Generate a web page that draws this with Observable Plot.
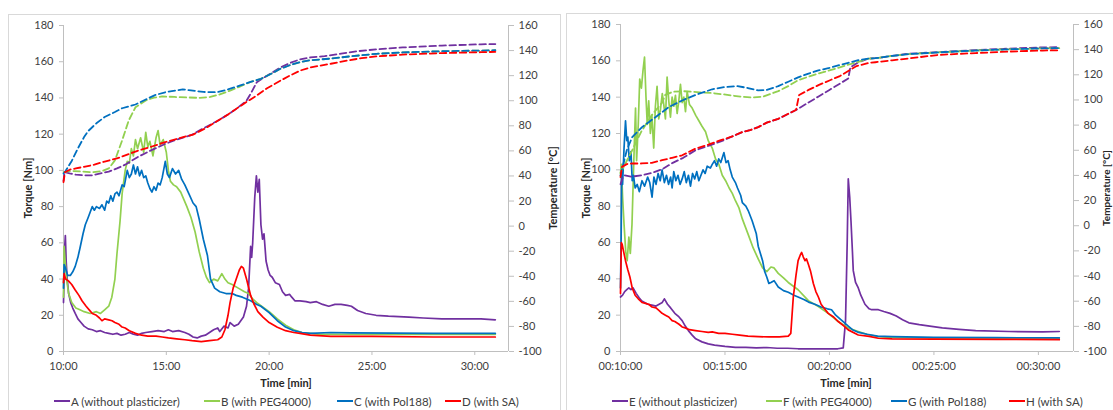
<!DOCTYPE html>
<html><head><meta charset="utf-8">
<script src="https://cdn.jsdelivr.net/npm/d3@7"></script>
<script src="https://cdn.jsdelivr.net/npm/@observablehq/plot@0.6"></script>
<style>
html,body{margin:0;padding:0;background:#fff;width:1113px;height:410px;overflow:hidden;position:relative;font-family:Lato,"Liberation Sans",sans-serif;}
.box{position:absolute;border:1px solid #d9d9d9;border-bottom:none;box-sizing:border-box;z-index:3;pointer-events:none;}
.plot{position:absolute;top:0;z-index:1;}
.title{position:absolute;font-weight:bold;font-size:11px;color:#262626;white-space:nowrap;transform:translate(-50%,-50%);z-index:2;}
.title.v{transform:translate(-50%,-50%) rotate(-90deg);}
.leg{position:absolute;top:394px;font-size:11.5px;color:#404040;white-space:nowrap;display:flex;align-items:center;height:14px;z-index:2;}
.leg i{display:inline-block;width:16px;height:2px;margin-right:1px;}
</style></head><body>
<div class="box" style="left:8px;top:14px;width:553px;height:400px;"></div>
<div class="box" style="left:566px;top:13px;width:560px;height:400px;border-right:none;"></div>
<div id="left" class="plot" style="left:0px;"></div>
<div id="right" class="plot" style="left:560px;"></div>
<div class="title v" style="left:27px;top:188px;">Torque [Nm]</div>
<div class="title v" style="left:552px;top:188px;">Temperature [°C]</div>
<div class="title" style="left:286px;top:382px;">Time [min]</div>
<div class="title v" style="left:585px;top:188px;">Torque [Nm]</div>
<div class="title v" style="left:1106px;top:188px;font-size:10px;">Temperature [°C]</div>
<div class="title" style="left:846px;top:382px;">Time [min]</div>
<div id="legends"></div>
<script>
// ---------- axis ticks ----------
const xTicks = [10, 15, 20, 25, 30];
const torqueTicks = [0, 20, 40, 60, 80, 100, 120, 140, 160, 180];
const tempTicks = [-100, -80, -60, -40, -20, 0, 20, 40, 60, 80, 100, 120, 140, 160];
const TORQUE_MAX = 180, TEMP_MIN = -100, TEMP_MAX = 160;

// ---------- series names & colours ----------
const leftNames = ["A (without plasticizer)", "B (with PEG4000)", "C (with Pol188)", "D (with SA)"];
const rightNames = ["E (without plasticizer)", "F (with PEG4000)", "G (with Pol188)", "H (with SA)"];
const COLORS = ["#7030A0", "#92D050", "#0070C0", "#FF0000"];

// ---------- LEFT panel: torque [Nm] vs time [min] ----------
const A_torque = [[10.0,27],[10.03,40],[10.06,58],[10.09,64],[10.13,50],[10.18,40],[10.25,32],[10.35,27],[10.45,24],[10.57,21],[10.7,18],[10.85,16],[11.0,14],[11.2,12.5],[11.4,12],[11.6,11],[11.8,11.5],[12.0,10.5],[12.2,10],[12.4,9.5],[12.6,10],[12.8,9],[13.0,9.5],[13.2,10.5],[13.4,9.5],[13.6,9],[13.8,10],[14.0,10.5],[14.3,11],[14.6,11.5],[14.9,11],[15.1,12],[15.3,11],[15.6,11.5],[15.9,10.5],[16.1,9.5],[16.3,8],[16.5,7.5],[16.7,8.5],[16.9,9],[17.1,10.5],[17.3,12],[17.5,13],[17.6,11],[17.8,14],[18.0,13],[18.1,16],[18.3,14],[18.5,15],[18.75,19],[18.9,25],[19.0,35],[19.1,58],[19.15,52],[19.2,60],[19.3,85],[19.38,97],[19.45,88],[19.52,95],[19.6,70],[19.68,62],[19.75,65],[19.85,50],[19.95,45],[20.05,42],[20.15,41],[20.3,38],[20.5,37],[20.65,33],[20.8,31],[21.0,31.5],[21.1,30],[21.25,28],[21.5,28],[21.8,27.5],[22.0,27],[22.3,27.5],[22.6,26],[22.9,25],[23.2,26],[23.5,26],[23.8,25.5],[24.0,25],[24.3,22.6],[24.7,21],[25.2,20],[25.8,19.5],[26.8,19],[27.5,18.5],[28.4,18],[29.5,18],[30.3,18],[31.0,17.5]];
const B_torque = [[10.0,30],[10.03,58],[10.08,50],[10.15,40],[10.25,32],[10.4,27],[10.6,24],[10.8,23],[11.0,22],[11.3,21],[11.6,22],[11.8,21],[12.0,23],[12.2,25],[12.35,30],[12.5,40],[12.6,54],[12.75,72],[12.85,87],[13.0,100],[13.1,105],[13.2,104],[13.3,112],[13.4,108],[13.5,117],[13.6,112],[13.75,118],[13.9,110],[14.0,121],[14.1,113],[14.2,116],[14.35,108],[14.5,118],[14.6,122],[14.7,114],[14.85,117],[15.0,110],[15.1,100],[15.2,94],[15.35,92],[15.5,91],[15.7,88],[15.85,84],[16.0,80],[16.2,74],[16.4,66],[16.6,55],[16.8,46],[16.95,41],[17.1,38],[17.3,40],[17.5,39],[17.7,43],[17.85,40],[18.0,38],[18.2,37],[18.5,35],[18.8,33],[19.0,32],[19.2,29],[19.4,27],[19.7,24.5],[20.0,22],[20.4,18],[20.8,14.5],[21.2,12],[21.6,10.5],[22.0,10],[22.5,9.5],[23.5,9.5],[25.0,9.5],[28.0,9.5],[31.0,9.5]];
const C_torque = [[10.0,35],[10.03,48],[10.1,46],[10.2,42],[10.33,42],[10.45,44],[10.57,47],[10.7,52],[10.8,57],[10.95,65],[11.06,70],[11.2,74],[11.3,77],[11.4,80],[11.5,78],[11.6,80],[11.75,79],[11.87,81],[12.0,78],[12.1,83],[12.2,82],[12.3,86],[12.4,83],[12.5,87],[12.6,88],[12.7,86],[12.85,92],[12.95,91],[13.1,100],[13.2,96],[13.3,98],[13.4,103],[13.5,98],[13.6,102],[13.7,97],[13.8,100],[13.9,96],[14.0,97],[14.1,93],[14.2,90],[14.3,88],[14.4,91],[14.5,89],[14.6,93],[14.7,92],[14.8,96],[14.95,105],[15.05,98],[15.15,96],[15.3,101],[15.45,98],[15.6,100],[15.75,95],[15.9,92],[16.1,87],[16.3,82],[16.45,80],[16.6,73],[16.8,62],[17.0,53],[17.15,40],[17.35,35],[17.6,33],[17.9,32],[18.2,32],[18.4,31],[18.7,30],[19.1,28],[19.4,26],[19.6,25],[20.0,21.5],[20.4,17],[20.8,13.5],[21.2,11.5],[21.6,10.5],[22.0,10],[23.0,10.5],[24.0,10.3],[26.0,10.2],[28.0,10],[31.0,10]];
const D_torque = [[10.0,38],[10.03,43],[10.1,40],[10.24,39],[10.4,37],[10.57,34],[10.75,31],[10.9,28],[11.1,25],[11.25,23],[11.4,21],[11.6,20],[11.75,18.5],[11.87,17],[12.0,18],[12.2,17.5],[12.36,17],[12.5,16],[12.7,15],[12.85,13.5],[13.0,13],[13.2,11.5],[13.5,10],[13.8,9],[14.1,8.5],[14.5,8.5],[14.8,8],[15.1,7.5],[15.5,7],[15.9,6.5],[16.25,6],[16.7,5.5],[17.1,6],[17.5,6.5],[17.7,8],[17.85,12],[18.0,20],[18.1,27],[18.25,35],[18.4,40],[18.55,45],[18.65,47],[18.75,46],[18.9,40],[19.0,35.5],[19.1,31],[19.25,26.5],[19.45,22],[19.7,19],[20.0,16],[20.4,13.4],[20.8,11.5],[21.2,10.5],[21.5,10],[22.0,9],[23.0,8.3],[25.0,8.3],[28.0,8],[31.0,8]];

// ---------- LEFT panel: temperature [°C] vs time [min] ----------
const A_temp = [[10.0,36],[10.05,43],[10.3,42],[10.6,41],[11.0,40.5],[11.4,40.5],[11.8,42],[12.2,43.5],[12.6,46],[13.0,49],[13.6,55],[14.2,60],[14.95,65.6],[15.5,69],[16.2,72.5],[16.8,78],[17.5,84],[18.0,89],[18.4,93.5],[18.9,100],[19.15,107],[19.4,114.8],[19.7,118],[20.1,122],[20.55,126.5],[21.0,130],[21.5,133],[22.0,134.5],[22.7,135.5],[23.5,137.5],[24.3,139.5],[25.2,141],[26.5,142.5],[28.4,144],[30.3,145],[31.0,145.2]];
const B_temp = [[10.0,43],[10.4,44],[10.9,43.5],[11.4,43],[11.9,44],[12.2,46],[12.5,52.4],[12.85,68.3],[13.17,84.2],[13.5,94.8],[14.0,100.2],[14.4,102.5],[14.8,103.4],[15.4,103],[16.1,102.6],[16.6,102.3],[17.14,103],[17.6,105],[18.1,108],[18.6,111.5],[19.1,115],[19.6,117.5],[20.1,121.5],[20.55,125.5],[21.0,128.3],[21.5,130.8],[22.0,132.3],[23.0,133.6],[24.0,135.5],[25.2,137.4],[26.5,138.5],[28.4,139.5],[30.3,140],[31.0,140.3]];
const C_temp = [[10.0,42],[10.1,44],[10.4,52],[10.7,62],[11.0,71],[11.2,75.8],[11.6,82],[12.0,87],[12.5,91],[12.85,94],[13.5,97],[14.0,101],[14.45,104.5],[15.0,107],[15.8,109],[16.2,108.2],[16.8,107],[17.47,106.8],[18.0,109],[18.6,112.2],[19.1,115],[19.6,117.5],[20.1,121.5],[20.55,125.5],[21.0,128.3],[21.5,130.8],[22.0,132.3],[23.0,133.6],[24.0,135.5],[25.2,137.4],[26.5,138.5],[28.4,139.5],[30.3,140],[31.0,140.3]];
const D_temp = [[10.0,35],[10.07,43],[10.3,45],[10.6,46],[10.9,47],[11.5,49],[12.0,51.5],[12.6,54],[13.1,57],[13.6,60],[14.3,63.5],[14.95,67],[15.6,70],[16.3,73],[16.9,78],[17.5,84],[18.0,89],[18.4,93.5],[18.9,99],[19.4,104.2],[19.9,110],[20.55,116],[21.0,120],[21.5,124],[22.0,126.5],[23.0,129.5],[23.8,132],[24.5,134],[25.2,135.3],[26.5,136.8],[28.4,138],[30.3,138.7],[31.0,139]];

// ---------- RIGHT panel: torque [Nm] vs time [min] ----------
const E_torque = [[10.0,30],[10.1,31],[10.2,33],[10.3,34],[10.4,35],[10.5,34],[10.6,35],[10.75,32],[10.9,29.5],[11.0,28],[11.15,27],[11.3,26],[11.5,25.5],[11.7,25],[11.85,26],[12.0,27],[12.1,29],[12.15,28],[12.25,26],[12.4,24],[12.6,21],[12.8,19],[12.95,17],[13.1,14],[13.25,11.5],[13.43,9],[13.6,7],[13.9,5.3],[14.2,4.2],[14.5,3.5],[15.0,2.8],[15.5,2.3],[16.0,2.3],[16.5,2],[17.0,2.2],[17.5,1.8],[18.0,1.8],[18.5,1.5],[19.0,1.5],[19.5,1.5],[20.0,1.5],[20.4,1.5],[20.66,2],[20.77,17],[20.85,60],[20.9,95],[20.97,85],[21.03,72],[21.1,55],[21.14,44.5],[21.25,38],[21.38,35],[21.5,31],[21.7,26],[21.9,23.5],[22.02,23],[22.34,23],[22.6,22],[22.9,21],[23.2,19.5],[23.5,17.5],[23.8,15.8],[24.3,14.8],[24.8,14],[25.4,13],[26.2,12.2],[27.0,11.5],[28.6,11],[30.2,10.8],[31.0,11]];
const F_torque = [[10.0,98],[10.04,103],[10.1,85],[10.17,70],[10.25,55],[10.32,50],[10.4,63],[10.47,54],[10.55,70],[10.65,110],[10.72,134],[10.77,105],[10.85,125],[10.92,150],[11.0,145],[11.08,155],[11.15,162],[11.22,140],[11.28,125],[11.35,138],[11.43,120],[11.5,130],[11.59,112],[11.67,135],[11.75,146],[11.83,128],[11.91,133],[12.0,142],[12.07,136],[12.15,128],[12.23,151],[12.31,138],[12.39,129],[12.47,140],[12.55,135],[12.63,141],[12.71,131],[12.79,138],[12.87,147],[12.95,137],[13.03,140],[13.11,132],[13.19,143],[13.3,136],[13.43,134],[13.6,130],[13.75,127],[13.9,124],[14.07,121],[14.2,116],[14.39,112],[14.55,106],[14.71,103],[14.87,97],[15.03,94],[15.2,90],[15.35,87],[15.5,83],[15.67,79],[15.83,73],[16.11,64.5],[16.35,57],[16.59,51],[16.8,46],[17.0,44],[17.2,46.5],[17.35,46],[17.55,43],[17.8,40.5],[18.03,38],[18.5,34],[18.99,28],[19.47,24.8],[19.94,21],[20.42,16.5],[20.9,12.9],[21.38,11],[21.86,9.2],[22.34,8.2],[23.0,7.8],[25.0,7.5],[28.0,7.5],[31.0,7.5]];
const G_torque = [[10.0,35],[10.03,62],[10.06,100],[10.1,92],[10.17,112],[10.24,127],[10.3,116],[10.35,118],[10.42,105],[10.5,110],[10.56,94],[10.62,97],[10.7,90],[10.8,92],[10.9,88],[11.03,94],[11.15,91],[11.3,96],[11.4,93],[11.51,85],[11.6,96],[11.7,92],[11.8,98],[11.9,94],[11.99,100],[12.1,93],[12.2,97],[12.3,92],[12.4,96],[12.47,90],[12.55,99],[12.65,94],[12.75,97],[12.85,92],[12.95,95],[13.05,99],[13.15,93],[13.25,97],[13.35,91],[13.45,98],[13.55,95],[13.65,99],[13.75,94],[13.85,97],[13.95,100],[14.05,98],[14.15,102],[14.3,101],[14.39,103],[14.5,105],[14.6,102],[14.7,106],[14.8,104],[14.95,109.5],[15.05,104],[15.15,105],[15.25,100],[15.35,96],[15.5,93],[15.6,90],[15.75,86],[15.83,82],[16.0,80],[16.11,77.6],[16.3,72],[16.5,64.8],[16.59,58],[16.8,50],[16.9,44],[17.0,41],[17.1,37.5],[17.2,38],[17.35,39],[17.55,35.5],[17.8,33.5],[18.03,32.6],[18.3,31],[18.5,30],[18.8,28.5],[19.0,27.2],[19.3,26],[19.6,24.5],[19.9,23.5],[20.1,23],[20.3,20],[20.6,17],[20.9,14],[21.1,12],[21.4,10.5],[21.8,9.5],[22.3,8.5],[23.0,8.2],[25.0,7.8],[28.0,7.6],[31.0,7.5]];
const H_torque = [[10.0,32],[10.04,60],[10.08,59],[10.15,55],[10.24,50],[10.35,45],[10.45,41],[10.56,35],[10.7,31],[10.85,29],[11.03,27],[11.2,26.5],[11.35,26],[11.51,24.5],[11.7,24],[11.85,22.5],[11.99,21],[12.15,20],[12.31,19],[12.47,17],[12.6,16.5],[12.8,15],[12.95,13.5],[13.1,13],[13.3,12],[13.59,11.5],[13.9,11],[14.2,10.5],[14.39,10.8],[14.7,10],[15.0,10],[15.35,9.5],[15.7,9],[16.1,8.5],[16.6,8.2],[17.1,8],[17.6,8],[18.03,8.5],[18.15,10],[18.27,30],[18.4,42],[18.5,50],[18.6,53],[18.67,54.5],[18.75,52],[18.83,50],[18.9,51],[18.99,48],[19.1,44],[19.23,37.4],[19.35,33],[19.47,30],[19.6,26],[19.7,24.5],[19.94,21],[20.2,19],[20.42,16.5],[20.7,14],[20.9,11.9],[21.38,9.1],[21.9,8.3],[22.34,7.3],[23.0,7],[25.0,6.8],[28.0,6.7],[31.0,6.5]];

// ---------- RIGHT panel: temperature [°C] vs time [min] ----------
const E_temp = [[10.0,33],[10.1,38],[10.2,40],[10.5,39],[11.0,40],[11.5,42],[12.0,45],[12.5,50],[13.0,54],[13.59,60],[14.2,63.5],[14.8,67],[15.35,71],[15.83,74.5],[16.2,76],[16.59,78.4],[17.0,82],[17.55,85],[18.03,89],[18.4,92],[19.0,98],[19.5,103],[20.0,108],[20.5,113],[20.9,117],[21.0,126],[21.38,130],[21.86,132.9],[22.2,133.2],[23.0,135],[23.8,136.8],[25.2,138],[27.0,139.7],[28.6,140.8],[30.2,141.8],[31.0,142]];
const F_temp = [[10.0,42],[10.5,58],[11.0,75],[11.5,88],[12.0,98],[12.14,104],[12.5,106.5],[13.0,107],[13.43,106.5],[13.8,106],[14.39,105.5],[14.9,104.5],[15.35,103.5],[15.83,102.5],[16.27,102],[16.8,102.5],[17.55,107],[18.03,111],[18.5,115.7],[19.0,118.5],[19.47,121],[20.0,123.5],[20.42,125.6],[20.9,128],[21.38,130.3],[21.86,132.9],[22.2,133.2],[23.0,135],[23.8,136.5],[25.2,137.8],[27.0,139.3],[28.6,140.3],[30.2,141],[31.0,141.2]];
const G_temp = [[10.0,40],[10.15,50],[10.3,60],[10.56,70.5],[11.03,78.4],[11.67,86.3],[12.31,94.3],[12.95,99.6],[13.59,104],[14.39,108.5],[15.0,110.3],[15.6,111],[16.1,109.5],[16.59,107.6],[17.0,108],[17.55,111],[18.03,114.5],[18.5,118],[19.0,121],[19.47,123.5],[20.0,125.5],[20.42,127.5],[20.9,129.5],[21.38,131.6],[21.86,132.9],[22.2,133.2],[23.0,135],[23.8,136.5],[25.2,137.8],[27.0,139.3],[28.6,140.3],[30.2,141],[31.0,141.2]];
const H_temp = [[10.0,38.7],[10.07,46.8],[10.3,49],[10.56,49.5],[11.0,49.5],[11.5,50],[11.99,52.1],[12.47,54],[12.95,56],[13.59,61.3],[14.2,64.5],[14.8,68],[15.35,71],[15.83,74.5],[16.2,76],[16.59,78.4],[17.0,82],[17.55,85],[18.03,89],[18.4,92],[18.55,104],[19.0,108],[19.5,112],[20.0,115.5],[20.5,119],[20.9,123],[21.3,127],[21.9,129.5],[22.2,130],[23.0,131.5],[23.8,133],[25.2,135.8],[27.0,137.3],[28.6,138.5],[30.2,139.3],[31.0,139.5]];

// ---------- drawing ----------
const toAxis = T => (T - TEMP_MIN) * TORQUE_MAX / (TEMP_MAX - TEMP_MIN);
const fromAxis = y => y * (TEMP_MAX - TEMP_MIN) / TORQUE_MAX + TEMP_MIN;
const FONT = "Lato, 'Liberation Sans', sans-serif";

function panel(el, cfg) {
  const solid = cfg.names.flatMap((n, i) => cfg.torque[i].map(([t, v]) => ({t, v, s: n})));
  const dashed = cfg.names.flatMap((n, i) => cfg.temp[i].map(([t, T]) => ({t, v: toAxis(T), s: n})));
  const chart = Plot.plot({
    width: cfg.width, height: cfg.height,
    marginLeft: cfg.ml, marginRight: cfg.mr, marginTop: cfg.mt, marginBottom: cfg.mb,
    style: {fontFamily: FONT, fontSize: "11px", color: "#404040", background: "transparent", overflow: "visible"},
    x: {domain: [10, cfg.xMax]},
    y: {domain: [0, TORQUE_MAX]},
    color: {domain: cfg.names, range: COLORS},
    marks: [
      Plot.ruleY([0], {stroke: "#bfbfbf"}),
      Plot.ruleX([10, cfg.xMax], {stroke: "#bfbfbf"}),
      Plot.axisX(xTicks, {tickSize: 4, tickPadding: 7, tickFormat: cfg.xfmt, stroke: "#bfbfbf", fill: "#404040", label: null}),
      Plot.axisY(torqueTicks, {anchor: "left", tickSize: 4, tickPadding: 6, stroke: "#bfbfbf", fill: "#404040", label: null}),
      Plot.axisY(tempTicks.map(toAxis), {anchor: "right", tickSize: 5, tickPadding: 5, tickFormat: d => String(Math.round(fromAxis(d))), stroke: "#bfbfbf", fill: "#404040", label: null}),
      Plot.line(solid, {x: "t", y: "v", z: "s", stroke: "s", strokeWidth: 1.7}),
      Plot.line(dashed, {x: "t", y: "v", z: "s", stroke: "s", strokeWidth: 1.8, strokeDasharray: "6.5,3.5"})
    ]
  });
  document.getElementById(el).appendChild(chart);
}

panel("left", {
  width: 560, height: 376, ml: 63, mr: 52, mt: 25, mb: 25, xMax: 31.64,
  names: leftNames, torque: [A_torque, B_torque, C_torque, D_torque], temp: [A_temp, B_temp, C_temp, D_temp],
  xfmt: d => `${d}:00`
});
panel("right", {
  width: 553, height: 376, ml: 60, mr: 40, mt: 24, mb: 25, xMax: 31.68,
  names: rightNames, torque: [E_torque, F_torque, G_torque, H_torque], temp: [E_temp, F_temp, G_temp, H_temp],
  xfmt: d => `00:${d}:00`
});

// ---------- legends ----------
const legendX = [[54, 204, 337, 445], [612, 766, 891, 1009]];
const legendHolder = document.getElementById("legends");
[leftNames, rightNames].forEach((names, p) => {
  names.forEach((n, i) => {
    const d = document.createElement("div");
    d.className = "leg";
    d.style.left = legendX[p][i] + "px";
    d.innerHTML = `<i style="background:${COLORS[i]}"></i><span></span>`;
    d.querySelector("span").textContent = n;
    legendHolder.appendChild(d);
  });
});
</script>
</body></html>
